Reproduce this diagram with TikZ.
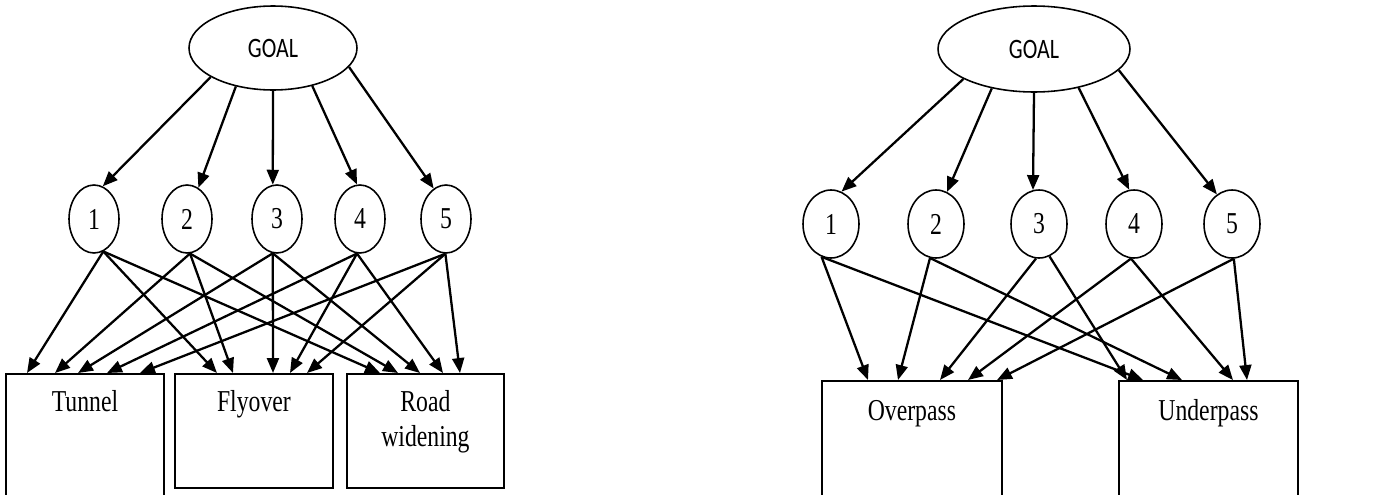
\documentclass[tikz,border=0pt]{standalone}
\usepackage{fontspec}
\usepackage{graphicx}
\setmainfont{Liberation Serif}
\newfontfamily\goalfam{Carlito}
\usetikzlibrary{calc,shapes.geometric,arrows.meta}
\def\tall#1{\scalebox{1}[1.28]{#1}}

\begin{document}
\begin{tikzpicture}[x=0.02cm,y=-0.02cm,
		goal/.style={draw,ellipse,line width=0.9pt,inner sep=0pt,font=\goalfam\fontsize{12.5}{15}\selectfont},
		crit/.style={draw,ellipse,line width=0.9pt,inner sep=0pt,minimum height=1.36cm,font=\fontsize{13.5}{15}\selectfont},
		alt/.style={draw,line width=1.1pt,inner sep=0pt,anchor=north west,align=center,font=\fontsize{13.5}{19.8}\selectfont},
		link/.style={-{Triangle[length=8.5pt,width=6.8pt]},line width=1.3pt}]
			%%%%% START %%%%%
			\useasboundingbox (0,0) rectangle (1393,494);
			
			%% left: goal, criteria, alternatives
			\node[goal,minimum width=3.36cm,minimum height=1.68cm] (goalA) at (273,48) {\tall{GOAL}};
			
			\node[crit,minimum width=1cm] (a1) at (94,219) {\tall{1}};
			\node[crit,minimum width=1cm] (a2) at (187,219) {\tall{2}};
			\node[crit,minimum width=1cm] (a3) at (277,219) {\tall{3}};
			\node[crit,minimum width=1cm] (a4) at (360,219) {\tall{4}};
			\node[crit,minimum width=1cm] (a5) at (446,219) {\tall{5}};
			
			\node[alt,text width=3.16cm,text height=0.76cm,text depth=1.84cm] (tunnel) at (5,373) {\tall{Tunnel}};
			\node[alt,text width=3.16cm,text height=0.76cm,text depth=1.52cm] (flyover) at (174,373) {\tall{Flyover}};
			\node[alt,text width=3.14cm,text height=0.76cm,text depth=1.52cm] (road) at (346,373) {\tall{Road}\\\tall{widening}};
			
			\draw[link] (goalA.205) -- (a1.75);
			\draw[link] (goalA.226) -- (a2.70);
			\draw[link] (goalA.270) -- (a3.97);
			\draw[link] (goalA.316) -- (a4.95);
			\draw[link] (goalA.346) -- (a5.112);
			
			\draw[link] (a1.-74) -- ($(tunnel.north west)+(22,0)$);
			\draw[link] (a1.-74) -- ($(flyover.north west)+(43,0)$);
			\draw[link] (a1.-74) -- ($(road.north west)+(34,0)$);
			\draw[link] (a2.-85) -- ($(tunnel.north west)+(50,0)$);
			\draw[link] (a2.-85) -- ($(flyover.north west)+(59,0)$);
			\draw[link] (a2.-85) -- ($(road.north west)+(52,0)$);
			\draw[link] (a3.-97) -- ($(tunnel.north west)+(73,0)$);
			\draw[link] (a3.-97) -- ($(flyover.north west)+(99,0)$);
			\draw[link] (a3.-97) -- ($(road.north west)+(74,0)$);
			\draw[link] (a4.-95) -- ($(tunnel.north west)+(102,0)$);
			\draw[link] (a4.-95) -- ($(flyover.north west)+(116,0)$);
			\draw[link] (a4.-95) -- ($(road.north west)+(97,0)$);
			\draw[link] (a5.-91) -- ($(tunnel.north west)+(135,0)$);
			\draw[link] (a5.-91) -- ($(flyover.north west)+(133,0)$);
			\draw[link] (a5.-91) -- ($(road.north west)+(114,0)$);
			
			%% right: goal, criteria, alternatives
			\node[goal,minimum width=3.84cm,minimum height=1.72cm] (goalB) at (1034,49) {\tall{GOAL}};
			
			\node[crit,minimum width=1.12cm] (b1) at (831,224) {\tall{1}};
			\node[crit,minimum width=1.12cm] (b2) at (936,224) {\tall{2}};
			\node[crit,minimum width=1.12cm] (b3) at (1039,224) {\tall{3}};
			\node[crit,minimum width=1.12cm] (b4) at (1134,224) {\tall{4}};
			\node[crit,minimum width=1.12cm] (b5) at (1232,224) {\tall{5}};
			
			\node[alt,text width=3.6cm,text height=0.8cm,text depth=1.7cm] (overpass) at (821,380) {\tall{Overpass}};
			\node[alt,text width=3.58cm,text height=0.8cm,text depth=1.7cm] (underpass) at (1118,380) {\tall{Underpass}};
			
			\draw[link] (goalB.203) -- (b1.72);
			\draw[link] (goalB.223) -- (b2.71);
			\draw[link] (goalB.270) -- (b3.100);
			\draw[link] (goalB.319) -- (b4.98);
			\draw[link] (goalB.346) -- (b5.117);
			
			\draw[link] (b1.-106) -- ($(overpass.north west)+(47,0)$);
			\draw[link] (b1.-106) -- ($(underpass.north west)+(25,0)$);
			\draw[link] (b2.-100) -- ($(overpass.north west)+(77,0)$);
			\draw[link] (b2.-100) -- ($(underpass.north west)+(64,0)$);
			\draw[link] (b3.-95) -- ($(overpass.north west)+(119,0)$);
			\draw[link] (b3.-72) -- ($(underpass.north west)+(9,0)$);
			\draw[link] (b4.-95) -- ($(overpass.north west)+(147,0)$);
			\draw[link] (b4.-95) -- ($(underpass.north west)+(115,0)$);
			\draw[link] (b5.-87) -- ($(overpass.north west)+(176,0)$);
			\draw[link] (b5.-87) -- ($(underpass.north west)+(129,0)$);
			%%%%% END %%%%%
		\end{tikzpicture}
\end{document}
